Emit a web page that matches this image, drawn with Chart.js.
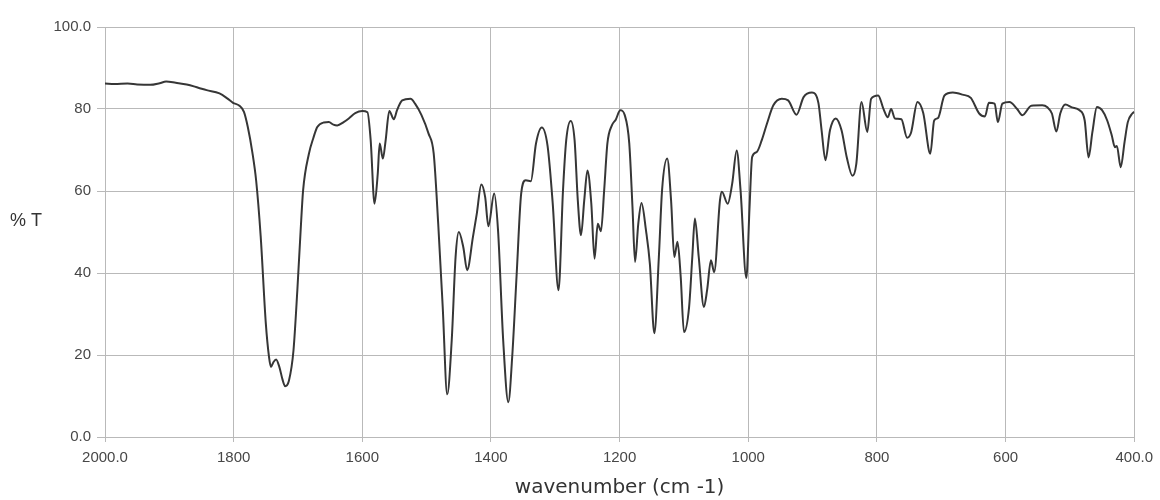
<!DOCTYPE html>
<html>
<head>
<meta charset="utf-8">
<title>IR spectrum</title>
<script src="https://cdn.jsdelivr.net/npm/chart.js@4/dist/chart.umd.min.js"></script>
<style>
  html, body { margin: 0; padding: 0; background: #ffffff; }
  #wrap { width: 1160px; height: 500px; position: relative; }
</style>
</head>
<body>
<div id="wrap"><canvas id="ir"></canvas></div>
<script>
// Wavenumber (cm-1) of each sampled point, high to low
const wavenumbers = [
  2000, 1985, 1965, 1950, 1930, 1915, 1905, 1890, 1873, 1855, 1842, 1822, 1810, 1801, 1791, 1784,
  1778, 1771, 1765, 1758, 1750, 1745, 1742, 1738, 1734, 1729, 1724, 1720, 1714, 1707, 1701, 1696,
  1692, 1683, 1676, 1670, 1660, 1652, 1645, 1639, 1629, 1621, 1611, 1600, 1592, 1587, 1581, 1576,
  1573, 1568, 1564, 1558, 1551, 1546, 1538, 1525, 1518, 1508, 1497, 1489, 1482, 1475, 1468, 1461,
  1455, 1450, 1443, 1437, 1428, 1422, 1415, 1409, 1404, 1395, 1389, 1381, 1373, 1367, 1360, 1353,
  1346, 1338, 1330, 1321, 1312, 1304, 1295, 1288, 1283, 1276, 1270, 1265, 1260, 1255, 1250, 1244,
  1239, 1234, 1229, 1224, 1219, 1212, 1206, 1199, 1192, 1185, 1180, 1176, 1171, 1166, 1159, 1153,
  1146, 1139, 1134, 1126, 1120, 1115, 1110, 1105, 1100, 1092, 1087, 1083, 1077, 1069, 1064, 1058,
  1053, 1044, 1041, 1032, 1025, 1018, 1012, 1003, 998, 994, 987, 979, 971, 961, 948, 938,
  925, 914, 901, 891, 886, 880, 873, 864, 855, 847, 838, 832, 824, 815, 809, 798,
  790, 783, 778, 772, 762, 753, 747, 737, 728, 717, 711, 705, 695, 682, 667, 654,
  641, 632, 626, 617, 612, 605, 594, 582, 574, 560, 543, 535, 528, 521, 515, 507,
  497, 485, 477, 471, 465, 458, 450, 442, 435, 430, 427, 421, 415, 410, 403, 400
];

// Percent transmittance at each wavenumber above
const transmittance = [
  86.2, 86.1, 86.2, 86.0, 85.9, 86.3, 86.7, 86.4, 86.0, 85.2, 84.6, 83.8, 82.6, 81.5, 80.8, 79.3,
  75.6, 69.5, 62.5, 49.0, 27.7, 19.5, 17.1, 18.3, 18.9, 17.1, 14.0, 12.4, 13.8, 21.1, 35.8, 50.0,
  60.2, 69.1, 73.0, 75.6, 76.7, 76.8, 76.2, 76.0, 76.8, 77.7, 79.0, 79.5, 79.2, 72.4, 56.9, 64.2,
  71.6, 67.9, 72.0, 79.5, 77.5, 79.7, 82.1, 82.5, 81.3, 78.5, 74.0, 69.1, 52.0, 31.7, 10.4, 23.6,
  43.9, 50.0, 46.3, 40.7, 48.8, 54.5, 61.6, 58.5, 51.4, 59.4, 50.4, 23.6, 8.5, 19.5, 39.8, 59.4,
  62.6, 62.4, 71.6, 75.5, 71.0, 57.0, 35.8, 60.2, 72.4, 77.1, 72.4, 57.7, 49.2, 57.7, 65.0, 56.9,
  43.5, 52.0, 50.2, 60.2, 71.6, 76.0, 77.4, 79.7, 78.5, 71.6, 56.1, 42.7, 52.0, 57.1, 50.4, 42.3,
  25.3, 43.9, 60.2, 67.9, 57.7, 43.9, 47.6, 39.0, 25.6, 31.7, 43.9, 53.3, 43.9, 31.7, 35.8, 43.1,
  40.2, 57.7, 59.8, 56.9, 61.8, 69.9, 60.2, 38.8, 56.1, 68.3, 69.5, 72.4, 76.4, 80.9, 82.5, 82.1,
  78.6, 82.9, 84.0, 81.5, 74.8, 67.5, 74.8, 77.7, 74.8, 68.3, 63.7, 66.7, 81.7, 74.4, 82.5, 83.3,
  80.1, 78.0, 80.0, 77.7, 77.5, 73.0, 74.2, 81.7, 79.0, 69.1, 77.2, 77.8, 83.3, 84.0, 83.5, 82.7,
  78.9, 78.2, 81.5, 81.3, 76.8, 81.3, 81.7, 80.0, 78.5, 80.8, 80.9, 80.4, 78.9, 74.5, 78.9, 81.1,
  80.4, 79.7, 77.2, 68.2, 74.4, 80.5, 79.7, 77.2, 73.6, 70.7, 71.0, 65.8, 72.0, 76.8, 78.9, 79.3
];

// Axis ranges and the tick labels written with a decimal
const xRange = [400, 2000];
const yRange = [0, 100];
const xEndLabels = { 2000: '2000.0', 400: '400.0' };
const yEndLabels = { 100: '100.0', 0: '0.0' };

const points = wavenumbers.map((w, i) => ({ x: w, y: transmittance[i] }));

const gridColor = '#b9b9b9';
const tickColor = '#474747';

// "% T" sits upright to the left of the value axis
const sideLabel = {
  id: 'sideLabel',
  afterDraw(chart) {
    const ctx = chart.ctx;
    ctx.save();
    ctx.font = '18px "Liberation Sans", Arial, sans-serif';
    ctx.fillStyle = '#333333';
    ctx.textAlign = 'left';
    ctx.textBaseline = 'middle';
    ctx.fillText('% T', 10, 221);
    ctx.restore();
  }
};

new Chart(document.getElementById('ir'), {
  type: 'line',
  data: {
    datasets: [{
      data: points,
      borderColor: '#363636',
      borderWidth: 2,
      pointRadius: 0,
      cubicInterpolationMode: 'monotone',
      fill: false
    }]
  },
  options: {
    responsive: true,
    maintainAspectRatio: false,
    animation: false,
    parsing: false,
    layout: { padding: { top: 27, right: 21, left: 0, bottom: 0 } },
    plugins: { legend: { display: false }, tooltip: { enabled: false } },
    scales: {
      x: {
        type: 'linear',
        reverse: true,
        min: xRange[0],
        max: xRange[1],
        afterFit(scale) { scale.height = 63; },
        ticks: {
          stepSize: 200,
          color: tickColor,
          padding: 7,
          maxRotation: 0,
          font: { family: '"Liberation Sans", Arial, sans-serif', size: 15 },
          callback: v => xEndLabels[v] || String(v)
        },
        grid: { color: gridColor, lineWidth: 1, tickLength: 5 },
        border: { color: gridColor },
        title: {
          display: true,
          text: 'wavenumber (cm -1)',
          color: '#333333',
          padding: 0,
          font: { family: '"DejaVu Sans", Verdana, sans-serif', size: 20 }
        }
      },
      y: {
        type: 'linear',
        min: yRange[0],
        max: yRange[1],
        afterFit(scale) { scale.width = 105; },
        ticks: {
          stepSize: 20,
          color: tickColor,
          padding: 6,
          font: { family: '"Liberation Sans", Arial, sans-serif', size: 15 },
          callback: v => yEndLabels[v] || String(v)
        },
        grid: { color: gridColor, lineWidth: 1, tickLength: 8 },
        border: { color: gridColor }
      }
    }
  },
  plugins: [sideLabel]
});
</script>
</body>
</html>
